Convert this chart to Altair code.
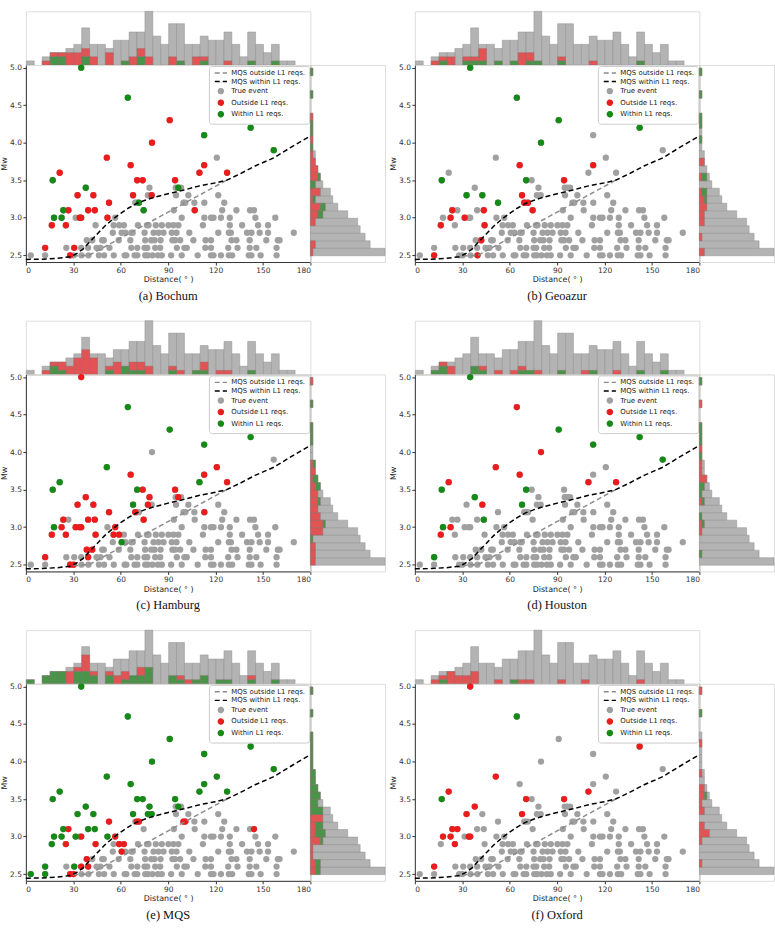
import altair as alt
import pandas as pd

# ---------------- data ----------------
X_TICKS = [0, 30, 60, 90, 120, 150, 180]
Y_TICKS = [2.5, 3.0, 3.5, 4.0, 4.5, 5.0]

# true events: magnitude row -> epicentral distances (deg)
EVENTS = {
    2.5: [3.1, 12.2, 28.0, 30.2, 35.2, 39.6, 46.2, 49.5, 55.6, 62.5, 63.6, 68.8, 70.5, 75.5, 77.2,
          80.1, 83.5, 86.0, 91.9, 98.6, 108.7, 117.1, 118.7, 123.4, 128.4, 130.5, 141.0, 142.7, 148.5, 158.6],
    2.6: [12.2, 25.6, 30.6, 35.0, 39.4, 44.7, 47.2, 52.9, 66.7, 70.5, 75.1, 76.8, 81.8, 85.0, 95.5,
          100.3, 101.8, 113.5, 117.1, 128.0, 133.9, 141.6, 145.8, 158.6],
    2.7: [38.5, 42.0, 48.3, 49.3, 58.7, 66.1, 75.5, 79.3, 81.4, 85.2, 92.7, 94.4, 97.6, 106.0, 113.7,
          117.1, 130.1, 133.2, 141.6, 152.1, 159.4, 160.5],
    2.8: [55.0, 60.6, 63.0, 66.7, 67.6, 75.1, 80.8, 83.9, 87.1, 92.3, 95.3, 103.4, 121.7, 128.4, 129.7,
          139.9, 142.7, 147.9, 153.2, 169.5],
    2.9: [16.4, 25.3, 44.1, 55.5, 59.0, 62.0, 70.9, 76.6, 77.6, 82.2, 86.0, 90.2, 93.4, 96.5, 112.0,
          129.0, 136.8, 146.9, 153.2],
    3.0: [17.8, 22.6, 31.5, 34.0, 35.0, 51.6, 56.5, 98.6, 112.9, 117.1, 118.7, 123.4, 129.0, 145.2, 157.8],
    3.1: [23.7, 26.9, 39.4, 43.6, 74.5, 93.6, 106.8, 124.2, 133.2, 141.8, 144.3],
    3.2: [52.6, 69.2, 70.2, 71.5, 99.7, 100.9, 106.6, 112.9, 125.5],
    3.3: [32.7, 42.7, 67.8, 77.2, 79.6, 95.0, 102.8, 121.7],
    3.4: [37.9, 78.2, 94.8, 96.4, 98.2],
    3.5: [17.0, 70.4, 73.9, 94.4],
    3.6: [21.4, 109.8, 127.3],
    3.7: [66.3, 112.8],
    3.8: [51.2, 120.8],
    3.9: [156.8],
    4.0: [79.8],
    4.1: [112.8],
    4.2: [142.2],
    4.3: [91.0],
    4.6: [64.5],
    5.0: [35.0],
}

BOCHUM_OUTSIDE = [(12.2, 2.6), (16.4, 2.9), (21.4, 3.6), (25.3, 2.9), (26.9, 3.1), (28.0, 2.5), (30.6, 2.6),
                  (32.7, 3.3), (34.0, 3.0), (35.0, 3.0), (39.4, 3.1), (42.7, 3.3), (43.6, 3.1), (51.2, 3.8),
                  (51.6, 3.0), (52.6, 3.2), (66.3, 3.7), (67.8, 3.3), (70.4, 3.5), (73.9, 3.5), (79.6, 3.3),
                  (79.8, 4.0), (91.0, 4.3), (94.4, 3.5), (106.8, 3.1), (109.8, 3.6), (112.8, 3.7), (127.3, 3.6)]
BOCHUM_WITHIN = [(17.0, 3.5), (17.8, 3.0), (22.6, 3.0), (23.7, 3.1), (35.0, 5.0), (37.9, 3.4), (64.5, 4.6),
                 (71.5, 3.2), (74.5, 3.1), (96.4, 3.4), (112.8, 4.1), (142.2, 4.2), (156.8, 3.9)]

GEOAZUR_OUTSIDE = [(12.2, 2.5), (16.4, 2.9), (22.6, 3.0), (23.7, 3.1), (31.5, 3.0), (39.6, 2.5), (42.0, 2.7),
                   (43.6, 3.1), (44.1, 2.9), (66.3, 3.7), (67.8, 3.3), (69.2, 3.2), (71.5, 3.2), (74.5, 3.1),
                   (94.4, 3.5), (112.8, 3.7)]
GEOAZUR_WITHIN = [(17.0, 3.5), (32.7, 3.3), (35.0, 5.0), (42.7, 3.3), (52.6, 3.2), (64.5, 4.6), (70.4, 3.5),
                  (79.8, 4.0), (91.0, 4.3), (142.2, 4.2)]

HAMBURG_OUTSIDE = [(12.2, 2.6), (16.4, 2.9), (22.6, 3.0), (23.7, 3.1), (25.3, 2.9), (28.0, 2.5), (30.2, 2.5),
                   (31.5, 3.0), (32.7, 3.3), (34.0, 3.0), (35.0, 3.0), (35.0, 5.0), (37.9, 3.4), (38.5, 2.7),
                   (39.4, 2.6), (39.4, 3.1), (42.7, 3.3), (43.6, 3.1), (42.0, 2.7), (44.1, 2.9), (52.6, 3.2),
                   (55.5, 2.9), (56.5, 3.0), (59.0, 2.9), (66.3, 3.7), (69.2, 3.2), (73.9, 3.5), (74.5, 3.1),
                   (77.2, 3.3), (78.2, 3.4), (94.4, 3.5), (96.4, 3.4), (112.9, 3.2), (112.8, 3.7),
                   (120.8, 3.8), (127.3, 3.6)]
HAMBURG_WITHIN = [(17.0, 3.5), (17.8, 3.0), (21.4, 3.6), (51.2, 3.8), (60.6, 2.8), (64.5, 4.6), (67.8, 3.3),
                  (70.4, 3.5), (91.0, 4.3), (109.8, 3.6), (112.8, 4.1), (142.2, 4.2)]

HOUSTON_OUTSIDE = [(16.4, 2.9), (21.4, 3.6), (22.6, 3.0), (42.7, 3.3), (51.2, 3.8), (64.5, 4.6), (66.3, 3.7),
                   (79.8, 4.0), (109.8, 3.6), (127.3, 3.6)]
HOUSTON_WITHIN = [(12.2, 2.6), (17.0, 3.5), (17.8, 3.0), (35.0, 5.0), (37.9, 3.4), (43.6, 3.1), (67.8, 3.3),
                  (70.4, 3.5), (91.0, 4.3), (112.8, 4.1), (142.2, 4.2), (156.8, 3.9)]

MQS_OUTSIDE = [(25.3, 2.9), (26.9, 3.1), (28.0, 2.5), (30.2, 2.5), (35.0, 2.6), (35.0, 3.0), (38.5, 2.7),
               (39.4, 2.6), (44.1, 2.9), (52.6, 3.2), (56.5, 3.0), (59.0, 2.9), (60.6, 2.8), (62.0, 2.9),
               (70.2, 3.2), (71.5, 3.2), (99.7, 3.2), (100.9, 3.2), (144.3, 3.1)]
MQS_WITHIN = [(3.1, 2.5), (12.2, 2.5), (12.2, 2.6), (16.4, 2.9), (17.0, 3.5), (17.8, 3.0), (21.4, 3.6),
              (22.6, 3.0), (23.7, 3.1), (30.6, 2.6), (31.5, 3.0), (32.7, 3.3), (35.0, 5.0), (37.9, 3.4),
              (39.4, 3.1), (42.7, 3.3), (43.6, 3.1), (51.2, 3.8), (51.6, 3.0), (64.5, 4.6), (66.3, 3.7),
              (67.8, 3.3), (70.4, 3.5), (73.9, 3.5), (77.2, 3.3), (78.2, 3.4), (79.6, 3.3), (79.8, 4.0),
              (91.0, 4.3), (94.4, 3.5), (96.4, 3.4), (109.8, 3.6), (112.8, 3.7), (112.8, 4.1), (120.8, 3.8),
              (127.3, 3.6), (142.2, 4.2), (156.8, 3.9)]

OXFORD_OUTSIDE = [(12.2, 2.6), (17.8, 3.0), (21.4, 3.6), (22.6, 3.0), (23.7, 3.1), (25.3, 2.9), (26.9, 3.1),
                  (32.7, 3.3), (34.0, 3.0), (35.0, 3.0), (35.0, 5.0), (37.9, 3.4), (51.2, 3.8), (67.8, 3.3),
                  (70.4, 3.5), (94.4, 3.5), (109.8, 3.6), (142.2, 4.2)]
OXFORD_WITHIN = [(17.0, 3.5), (64.5, 4.6)]

# MQS detection-threshold curves
MQS_WITHIN_DIST = [0, 10, 20, 28, 32, 36, 40, 45, 50, 55, 60, 65, 70, 75, 80, 90, 100, 110, 120, 127,
                   135, 145, 157, 167, 180]
MQS_WITHIN_MW = [2.445, 2.448, 2.46, 2.48, 2.52, 2.58, 2.67, 2.78, 2.89, 2.98, 3.06, 3.13, 3.19, 3.23, 3.265,
                 3.32, 3.37, 3.425, 3.465, 3.5, 3.58, 3.69, 3.8, 3.93, 4.09]
MQS_OUTSIDE_DIST = [30, 40, 60, 80, 100, 127]
MQS_OUTSIDE_MW = [2.49, 2.5, 2.73, 2.96, 3.19, 3.5]

PANELS = [
    ("(a)  Bochum", BOCHUM_OUTSIDE, BOCHUM_WITHIN),
    ("(b)  Geoazur", GEOAZUR_OUTSIDE, GEOAZUR_WITHIN),
    ("(c)  Hamburg", HAMBURG_OUTSIDE, HAMBURG_WITHIN),
    ("(d)  Houston", HOUSTON_OUTSIDE, HOUSTON_WITHIN),
    ("(e)  MQS", MQS_OUTSIDE, MQS_WITHIN),
    ("(f)  Oxford", OXFORD_OUTSIDE, OXFORD_WITHIN),
]

LABELS = ["MQS outside L1 reqs.", "MQS within L1 reqs.", "True event", "Outside L1 reqs.", "Within L1 reqs."]
COLORS = ["#8c8c8c", "#000000", "#a0a0a0", "#ec1c1c", "#168a16"]
SHAPES = ["M-2.4,0L2.4,0", "M-2.4,0L2.4,0", "circle", "circle", "circle"]
DASHES = [[5, 3], [5, 3], [1, 0], [1, 0], [1, 0]]

HIST_STATUS = ["Outside L1 reqs.", "Within L1 reqs."]
HIST_COLORS = ["#e25454", "#4a944a"]

# ---------------- frames ----------------
events_df = pd.DataFrame([(d, m) for m, ds in EVENTS.items() for d in ds], columns=["dist", "mw"])
events_df["label"] = "True event"

lines_df = pd.concat([
    pd.DataFrame({"dist": MQS_OUTSIDE_DIST, "mw": MQS_OUTSIDE_MW, "label": LABELS[0]}),
    pd.DataFrame({"dist": MQS_WITHIN_DIST, "mw": MQS_WITHIN_MW, "label": LABELS[1]}),
], ignore_index=True)

W, H, TOP_H, RIGHT_W = 286, 198, 54, 75
FONT = "DejaVu Sans"
XDOM = [0, 180]
YDOM = [2.41, 5.035]


def colored_frame(outside, within):
    a = pd.DataFrame(outside, columns=["dist", "mw"])
    a["label"] = "Outside L1 reqs."
    b = pd.DataFrame(within, columns=["dist", "mw"])
    b["label"] = "Within L1 reqs."
    return pd.concat([a, b], ignore_index=True)


def legend():
    return alt.Legend(title=None, orient="top-right", offset=1, padding=3.5, fillColor="white",
                      strokeColor="#cccccc", cornerRadius=3, labelFont=FONT, labelFontSize=7,
                      labelColor="#222222", symbolSize=26, symbolStrokeWidth=1.4, rowPadding=0.6,
                      labelOffset=7, symbolOffset=5)


def main_chart(col_df, caption):
    x = alt.X("dist:Q", scale=alt.Scale(domain=XDOM, nice=False, zero=False),
              axis=alt.Axis(values=X_TICKS, title="Distance( ° )", grid=False, labelFontSize=7.5,
                            titleFontSize=8, titleFontWeight="normal", tickSize=3, labelPadding=1.5,
                            titlePadding=2, domainColor="#333333", tickColor="#333333",
                            labelColor="#333333", titleColor="#222222", labelFont=FONT, titleFont=FONT))
    y = alt.Y("mw:Q", scale=alt.Scale(domain=YDOM, nice=False, zero=False),
              axis=alt.Axis(values=Y_TICKS, format=".1f", title="Mw", grid=False, labelFontSize=7.5,
                            titleFontSize=8, titleFontWeight="normal", tickSize=3, labelPadding=1.5,
                            titlePadding=1, domainColor="#333333", tickColor="#333333",
                            labelColor="#333333", titleColor="#222222", labelFont=FONT, titleFont=FONT))
    color = alt.Color("label:N", scale=alt.Scale(domain=LABELS, range=COLORS), legend=legend())
    shape = alt.Shape("label:N", scale=alt.Scale(domain=LABELS, range=SHAPES), legend=legend())
    dash = alt.StrokeDash("label:N", scale=alt.Scale(domain=LABELS, range=DASHES), legend=legend())

    gray = alt.Chart(events_df).mark_point(filled=True, size=40, opacity=1).encode(
        x=x, y=y, color=color, shape=shape)
    col = alt.Chart(col_df).mark_point(filled=True, size=40, opacity=1).encode(
        x=x, y=y, color=color, shape=shape)
    lines = alt.Chart(lines_df).mark_line(strokeWidth=1.5).encode(
        x=x, y=y, color=color, strokeDash=dash)
    return alt.layer(gray, col, lines).properties(
        width=W, height=H,
        title=alt.TitleParams(caption, orient="bottom", font="Liberation Serif", fontSize=12.5,
                              fontWeight="normal", color="#111111", offset=6, anchor="middle"))


def top_hist(col_df):
    x = alt.X("dist:Q", bin=alt.Bin(step=5, extent=XDOM),
              scale=alt.Scale(domain=XDOM, nice=False, zero=False),
              axis=alt.Axis(labels=False, ticks=False, title=None, grid=False, domainColor="#c8c0b0"))
    y = alt.Y("count():Q", scale=alt.Scale(nice=False, zero=True), axis=None)
    g = alt.Chart(events_df).mark_bar(color="#b3b3b3", stroke="#909090", strokeWidth=0.5,
                                      binSpacing=0).encode(x=x, y=y)
    c = alt.Chart(col_df).mark_bar(stroke="#8a6a6a", strokeWidth=0.4, binSpacing=0).encode(
        x=x, y=y, fill=alt.Fill("label:N", scale=alt.Scale(domain=HIST_STATUS, range=HIST_COLORS),
                                legend=None))
    return alt.layer(g, c).properties(width=W, height=TOP_H)


def right_hist(col_df):
    y = alt.Y("mw:Q", bin=alt.Bin(step=0.1, extent=[2.5, 5.0]),
              scale=alt.Scale(domain=YDOM, nice=False, zero=False),
              axis=alt.Axis(labels=False, ticks=False, title=None, grid=False, domainColor="#c8c0b0"))
    x = alt.X("count():Q", scale=alt.Scale(nice=False, zero=True), axis=None)
    g = alt.Chart(events_df).mark_bar(color="#b3b3b3", stroke="#909090", strokeWidth=0.5,
                                      binSpacing=0).encode(x=x, y=y)
    c = alt.Chart(col_df).mark_bar(stroke="#8a6a6a", strokeWidth=0.4, binSpacing=0).encode(
        x=x, y=y, fill=alt.Fill("label:N", scale=alt.Scale(domain=HIST_STATUS, range=HIST_COLORS),
                                legend=None))
    return alt.layer(g, c).properties(width=RIGHT_W, height=H)


INDEP = dict(color="independent", shape="independent", strokeDash="independent")


def panel(caption, outside, within):
    col_df = colored_frame(outside, within)
    body = alt.hconcat(main_chart(col_df, caption), right_hist(col_df), spacing=0,
                       bounds="flush").resolve_scale(**INDEP)
    return alt.vconcat(top_hist(col_df), body, spacing=0, bounds="flush").resolve_scale(**INDEP)


rows = []
for i in range(0, 6, 2):
    rows.append(alt.hconcat(panel(*PANELS[i]), panel(*PANELS[i + 1]), spacing=3).resolve_scale(**INDEP))

chart = alt.vconcat(*rows, spacing=17).resolve_scale(**INDEP).properties(
    padding={"left": 0, "top": 8, "right": 0, "bottom": 0}
).configure_view(stroke=None).configure(background="white")

chart.save("out.html", embed_options={"renderer": "svg", "actions": False})
